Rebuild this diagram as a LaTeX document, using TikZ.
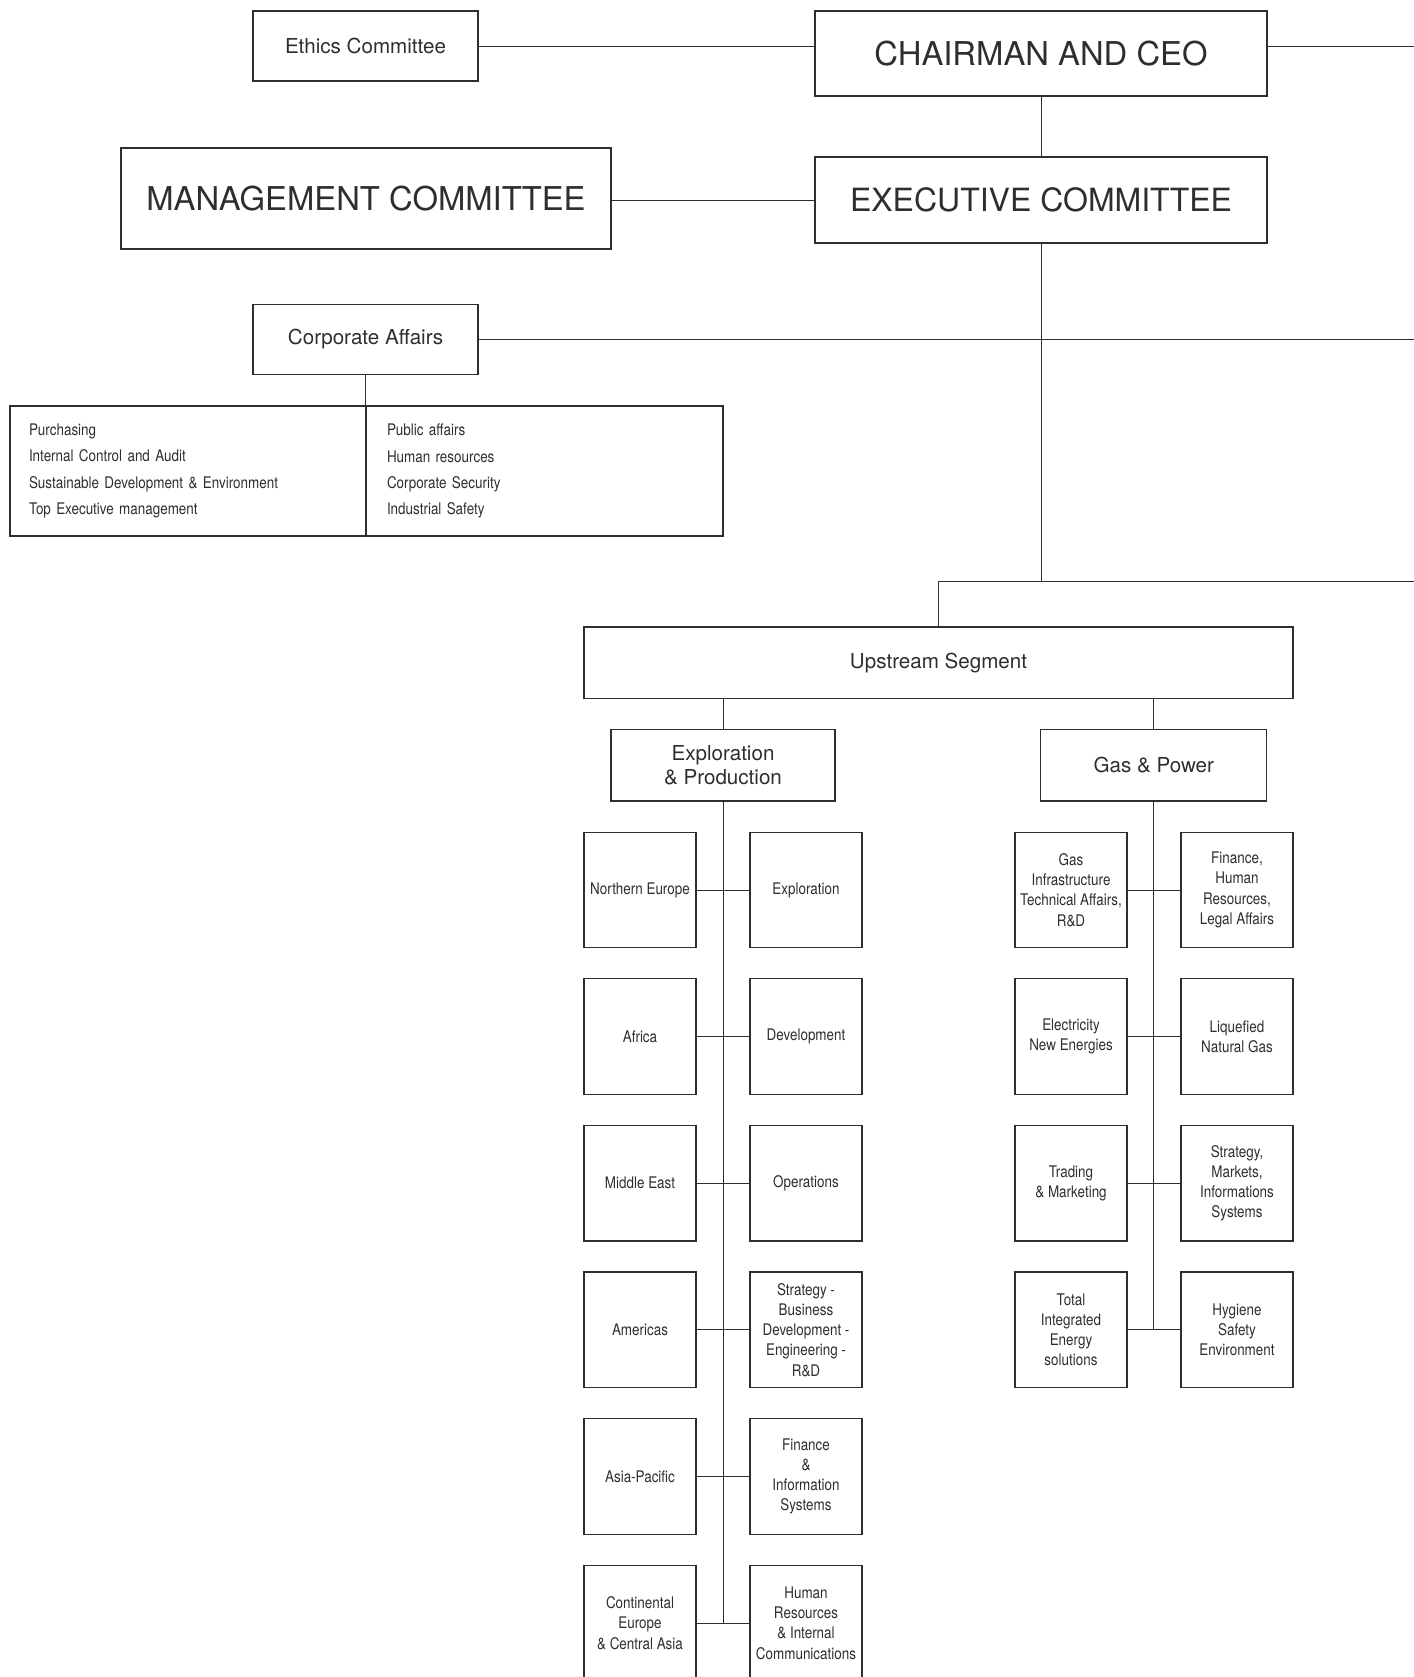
\documentclass[tikz,border=0pt]{standalone}
\usepackage{fontspec}
\setmainfont{TeX Gyre Heros}
\newfontfamily\condfont[FakeStretch=0.84]{TeX Gyre Heros}
\definecolor{ink}{HTML}{2E2E2E}
\begin{document}
\begin{tikzpicture}[x=0.5pt,y=-0.5pt,
  box/.style={draw=ink, text=ink, line width=0.6pt, inner sep=0pt, align=center},
  big/.style={box, font=\fontsize{16.4}{19.8}\selectfont},
  mid/.style={box, font=\fontsize{10.3}{11.8}\selectfont},
  small/.style={box, minimum width=56pt, minimum height=57.75pt, font=\condfont\fontsize{8}{10.15}\selectfont},
  listbox/.style={draw=ink, text=ink, line width=0.6pt, inner ysep=0pt, minimum height=65pt, align=left, font=\condfont\fontsize{8}{13.1}\selectfont},
  conn/.style={draw=ink, line width=0.5pt}]
\useasboundingbox (0,0) rectangle (1414,1677);

% top level
\node[mid, minimum width=112.5pt, minimum height=35pt] (ethics) at (365.5,46) {Ethics Committee};
\node[big, minimum width=226pt, minimum height=42.5pt] (ceo) at (1041,53.5) {CHAIRMAN AND CEO};
\node[big, minimum width=245pt, minimum height=50.5pt] (mgmt) at (366,198.5) {MANAGEMENT COMMITTEE};
\node[big, minimum width=226pt, minimum height=43pt, font=\fontsize{16}{19.8}\selectfont] (exec) at (1041,200) {EXECUTIVE COMMITTEE};
\node[mid, minimum width=112.5pt, minimum height=35pt] (corp) at (365.5,339.5) {Corporate Affairs};
\node[listbox, text width=159pt, inner xsep=9.5pt] (listL) at (188,471)
  {Purchasing\\Internal Control and Audit\\Sustainable Development \& Environment\\Top Executive management};
\node[listbox, text width=157.5pt, inner xsep=10.5pt] (listR) at (544.5,471)
  {Public affairs\\Human resources\\Corporate Security\\Industrial Safety};

% segments
\node[mid, minimum width=354.5pt, minimum height=35.75pt] (up) at (938.5,662.75) {Upstream Segment};
\node[mid, minimum width=112pt, minimum height=35.75pt] (ep) at (723,765.3) {Exploration\\\& Production};
\node[mid, minimum width=113pt, minimum height=35.75pt] (gp) at (1153.75,765.3) {Gas \& Power};

% E&P units
\node[small] (e1L) at (640,890) {Northern Europe};
\node[small] (e1R) at (806,890) {Exploration};
\node[small] (e2L) at (640,1036.6) {Africa};
\node[small] (e2R) at (806,1036.6) {Development};
\node[small] (e3L) at (640,1183.2) {Middle East};
\node[small] (e3R) at (806,1183.2) {Operations};
\node[small] (e4L) at (640,1329.8) {Americas};
\node[small] (e4R) at (806,1329.8) {Strategy -\\Business\\Development -\\Engineering -\\R\&D};
\node[small] (e5L) at (640,1476.4) {Asia-Pacific};
\node[small] (e5R) at (806,1476.4) {Finance\\\&\\Information\\Systems};
\node[small] (e6L) at (640,1623) {Continental\\Europe\\\& Central Asia};
\node[small] (e6R) at (806,1623) {Human\\Resources\\\& Internal\\Communications};

% G&P units
\node[small] (g1L) at (1071,890) {Gas\\Infrastructure\\Technical Affairs,\\R\&D};
\node[small] (g1R) at (1237,890) {Finance,\\Human\\Resources,\\Legal Affairs};
\node[small] (g2L) at (1071,1036.6) {Electricity\\New Energies};
\node[small] (g2R) at (1237,1036.6) {Liquefied\\Natural Gas};
\node[small] (g3L) at (1071,1183.2) {Trading\\\& Marketing};
\node[small] (g3R) at (1237,1183.2) {Strategy,\\Markets,\\Informations\\Systems};
\node[small] (g4L) at (1071,1329.8) {Total\\Integrated\\Energy\\solutions};
\node[small] (g4R) at (1237,1329.8) {Hygiene\\Safety\\Environment};

% free ends
\coordinate (ceoR) at (1414,46);
\coordinate (corpR) at (1414,340);
\coordinate (junc) at (1041,581);
\coordinate (jR) at (1414,581);

% connectors
\begin{scope}[conn]
\draw (ethics.east) -- (ethics.east -| ceo.west);
\draw (ceo.east |- ceoR) -- (ceoR);
\draw (ceo.south) -- (exec.north);
\draw (exec.west -| mgmt.east) -- (exec.west);
\draw (corp.east) -- (corp.east -| corpR);
\draw (corp.south) -- (corp.south |- listL.north);
\draw (exec.south) -- (junc);
\draw (up.north) |- (jR);
\draw (up.south -| ep.north) -- (ep.north);
\draw (up.south -| gp.north) -- (gp.north);
\draw (ep.south) -- (ep.south |- e6L.east);
\draw (gp.south) -- (gp.south |- g4L.east);
\foreach \r in {1,...,6} {\draw (e\r L.east) -- (e\r R.west);}
\foreach \r in {1,...,4} {\draw (g\r L.east) -- (g\r R.west);}
\end{scope}
\end{tikzpicture}
\end{document}
